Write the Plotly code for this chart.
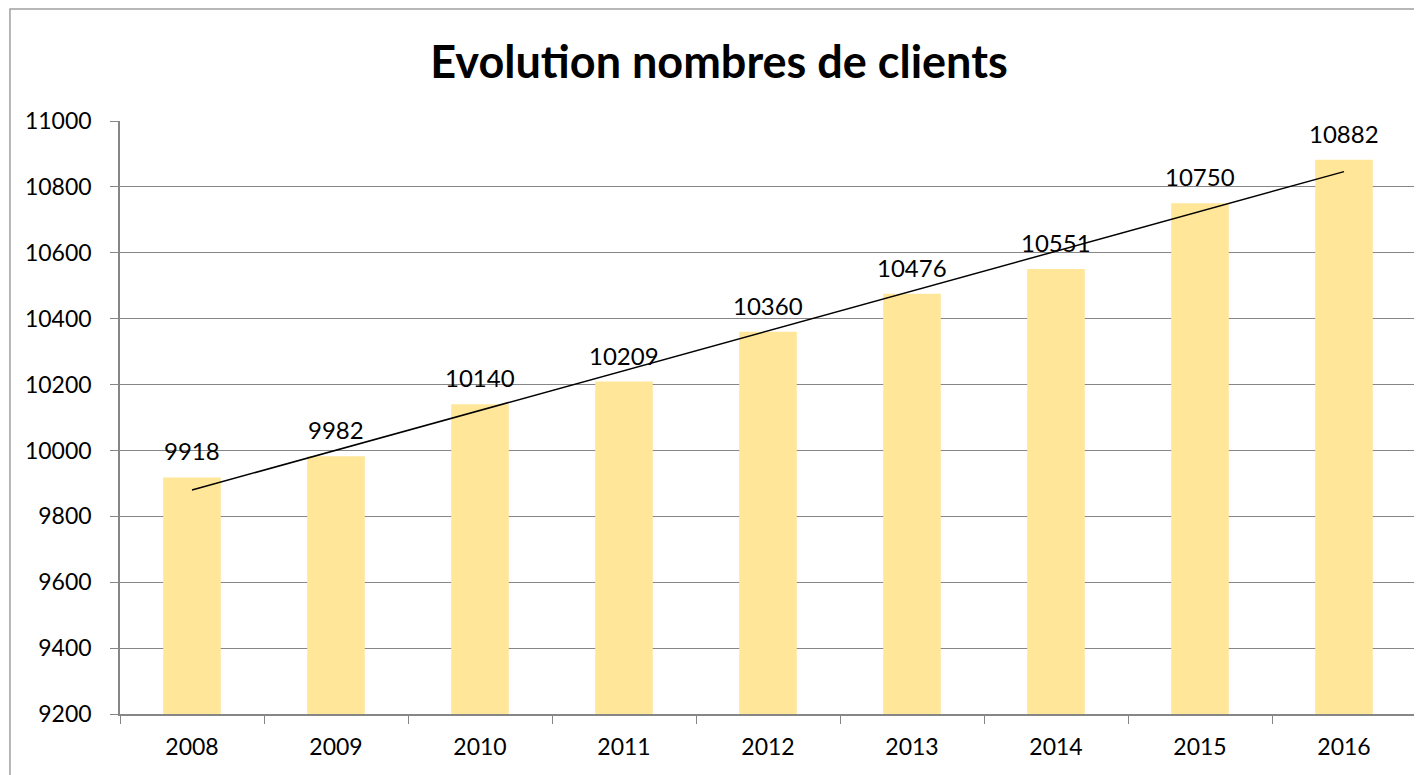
import numpy as np
import plotly.graph_objects as go

# Données
annees = ["2008", "2009", "2010", "2011", "2012", "2013", "2014", "2015", "2016"]
clients = [9918, 9982, 10140, 10209, 10360, 10476, 10551, 10750, 10882]

y_ticks = list(range(9200, 11001, 200))

# Courbe de tendance linéaire (comme dans Excel)
idx = np.arange(len(clients))
pente, origine = np.polyfit(idx, clients, 1)
tendance = pente * idx + origine

fig = go.Figure()

fig.add_trace(go.Bar(
    x=annees, y=clients,
    marker=dict(color="#FFE699", line=dict(width=0)),
    showlegend=False,
))

fig.add_trace(go.Scatter(
    x=[annees[0], annees[-1]], y=[tendance[0], tendance[-1]],
    mode="lines",
    line=dict(color="black", width=1.5),
    showlegend=False,
))

# Étiquettes de données au-dessus des barres
for i, v in enumerate(clients):
    fig.add_annotation(
        x=i, y=v, text=str(v),
        showarrow=False, yanchor="bottom", yshift=10,
        font=dict(family="Lato", size=24, color="black"),
    )

# Cadre extérieur du graphique
fig.add_shape(
    type="rect", xref="paper", yref="paper",
    x0=-0.0849, x1=1.02, y0=-0.2, y1=1.189,
    line=dict(color="#A0A0A0", width=1.5),
)

fig.update_layout(
    width=1422, height=775,
    margin=dict(l=112, r=14, t=113, b=69),
    paper_bgcolor="white", plot_bgcolor="white",
    bargap=0.6,
    title=dict(
        text="<b>Evolution nombres de clients</b>",
        x=0.5, xanchor="center", y=0.93, yanchor="middle",
        font=dict(family="Lato", size=45, color="black"),
    ),
    font=dict(family="Lato", size=23, color="black"),
)

fig.update_xaxes(
    type="category",
    range=[-0.5, len(annees) - 0.5],
    showline=True, linecolor="#868686", linewidth=1.5,
    ticks="outside", tickson="boundaries", ticklen=8, tickcolor="#868686",
    showgrid=False, tickangle=0, ticklabelstandoff=12,
    tickfont=dict(family="Lato", size=23),
)

fig.update_yaxes(
    range=[9200, 11000],
    tickvals=y_ticks, tickformat="d",
    showline=True, linecolor="#868686", linewidth=1.5,
    ticks="outside", ticklen=8, tickcolor="#868686",
    showgrid=True, gridcolor="#868686", gridwidth=1,
    zeroline=False, ticklabelstandoff=14,
    tickfont=dict(family="Lato", size=23),
)

fig.write_html("out.html")
